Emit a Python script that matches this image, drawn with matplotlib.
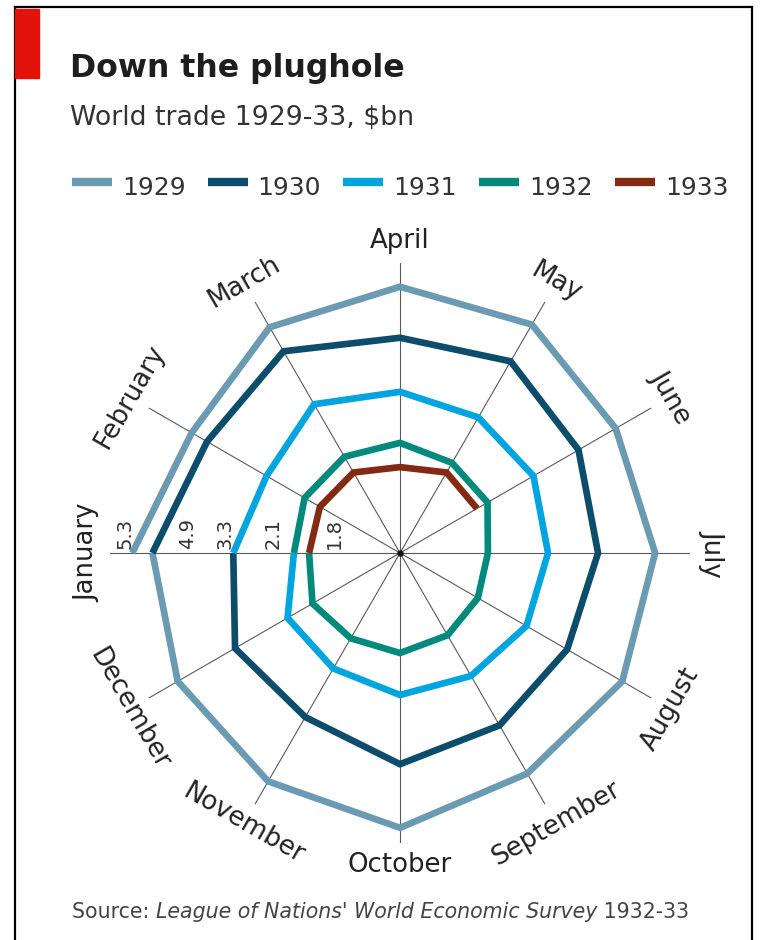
import numpy as np
import matplotlib
matplotlib.use("Agg")
import matplotlib.pyplot as plt
from matplotlib.lines import Line2D
from matplotlib.patches import Rectangle

plt.rcParams['font.family'] = ['DejaVu Sans']

# ---------------- data ----------------
months = ['January', 'February', 'March', 'April', 'May', 'June',
          'July', 'August', 'September', 'October', 'November', 'December']
years = ['1929', '1930', '1931', '1932', '1933']
trade_1929 = [5.3, 4.76, 5.16, 5.27, 5.22, 4.93, 5.05, 5.08, 5.04, 5.44, 5.22, 5.08]
trade_1930 = [4.9, 4.41, 4.61, 4.26, 4.38, 4.08, 3.92, 3.82, 3.94, 4.18, 3.75, 3.77]
trade_1931 = [3.3, 3.05, 3.40, 3.19, 3.10, 3.05, 2.93, 2.89, 2.81, 2.81, 2.64, 2.57]
trade_1932 = [2.1, 2.18, 2.20, 2.18, 2.06, 2.00, 1.74, 1.78, 1.88, 1.98, 1.95, 2.00]
trade_1933 = [1.8, 1.83, 1.84, 1.70, 1.84, 1.76]
series = [trade_1929, trade_1930, trade_1931, trade_1932, trade_1933]
jan_labels = ['5.3', '4.9', '3.3', '2.1', '1.8']

# ---------------- style ----------------
colors = ['#6a9bb2', '#0b4d6a', '#00a4de', '#008a7c', '#832a13']
W, H = 770, 940
cx, cy = 400, 553          # centre of the wheel, pixels
R_px = 290                 # spoke length in pixels
rmax = 5.74                # data units at spoke end
label_r = 6.18             # month label radius (data units)
value_label_r = [5.45, 4.20, 3.47, 2.51, 1.29]

fig = plt.figure(figsize=(W / 100, H / 100), dpi=100)
fig.patch.set_facecolor('white')

ax = fig.add_axes([(cx - R_px) / W, (H - cy - R_px) / H, 2 * R_px / W, 2 * R_px / H],
                  projection='polar')
ax.set_theta_zero_location('W')
ax.set_theta_direction(-1)
ax.set_ylim(0, rmax)
ax.set_yticks([])
ax.set_xticks(np.deg2rad(np.arange(12) * 30))
ax.set_xticklabels([])
ax.spines['polar'].set_visible(False)
ax.xaxis.grid(True, color='#5a5a5a', linewidth=0.8)
ax.yaxis.grid(False)
ax.set_facecolor('none')
ax.tick_params(axis='x', length=0)

# data lines: each year runs Jan..Dec and joins the next January
for k, vals in enumerate(series):
    v = list(vals)
    if k + 1 < len(series):
        v = v + [series[k + 1][0]]
    th = np.deg2rad(np.arange(len(v)) * 30)
    ax.plot(th, v, color=colors[k], linewidth=4.8, solid_joinstyle='miter',
            solid_capstyle='butt', zorder=3)

ax.plot([0], [0], 'o', color='#111111', markersize=3.5, zorder=4)

# month labels
for i, m in enumerate(months):
    phi = 180 - i * 30
    rot = phi - 90
    if rot < -90:
        rot += 180
    ax.text(np.deg2rad(i * 30), label_r, m, rotation=rot, rotation_mode='anchor',
            ha='center', va='center', fontsize=18.7, color='#222222')

# January value labels
for lab, rr in zip(jan_labels, value_label_r):
    ax.annotate(lab, xy=(0, rr), xytext=(0, 3), textcoords='offset points',
                rotation=90, rotation_mode='anchor', ha='left', va='center',
                fontsize=14, color='#333333')

# ---------------- header ----------------
def fx(px):
    return px / W

def fy(py):
    return 1 - py / H

fig.patches.append(Rectangle((fx(15), fy(78)), fx(39) - fx(15), fy(9) - fy(78),
                             transform=fig.transFigure, color='#e3120b', zorder=5))
# frame
fig.lines.append(Line2D([fx(15), fx(15)], [fy(945), fy(7)], transform=fig.transFigure,
                        color='black', linewidth=1.6))
fig.lines.append(Line2D([fx(15), fx(752)], [fy(7), fy(7)], transform=fig.transFigure,
                        color='black', linewidth=1.6))
fig.lines.append(Line2D([fx(752), fx(752)], [fy(7), fy(945)], transform=fig.transFigure,
                        color='black', linewidth=1.6))

fig.text(fx(70), fy(77), 'Down the plughole', fontsize=22.7, fontweight='bold',
         color='#1e1e1e', ha='left', va='baseline')
fig.text(fx(70), fy(125), 'World trade 1929-33, $bn', fontsize=19.3, color='#333333',
         ha='left', va='baseline')

# legend
for i, (yr, c) in enumerate(zip(years, colors)):
    x0 = 72 + i * 135.7
    fig.lines.append(Line2D([fx(x0), fx(x0 + 40)], [fy(182), fy(182)],
                            transform=fig.transFigure, color=c, linewidth=6.0,
                            solid_capstyle='butt'))
    fig.text(fx(x0 + 50), fy(195), yr, fontsize=18, color='#333333',
             ha='left', va='baseline')

# source line
renderer = fig.canvas.get_renderer()
x = fx(72)
parts = [('Source: ', 'normal'), ("League of Nations' World Economic Survey", 'italic'),
         (' 1932-33', 'normal')]
for txt, style in parts:
    t = fig.text(x, fy(918), txt, fontsize=14.8, style=style, color='#444444',
                 ha='left', va='baseline')
    bb = t.get_window_extent(renderer=renderer)
    x += bb.width / W

fig.savefig('out.png', dpi=100)
